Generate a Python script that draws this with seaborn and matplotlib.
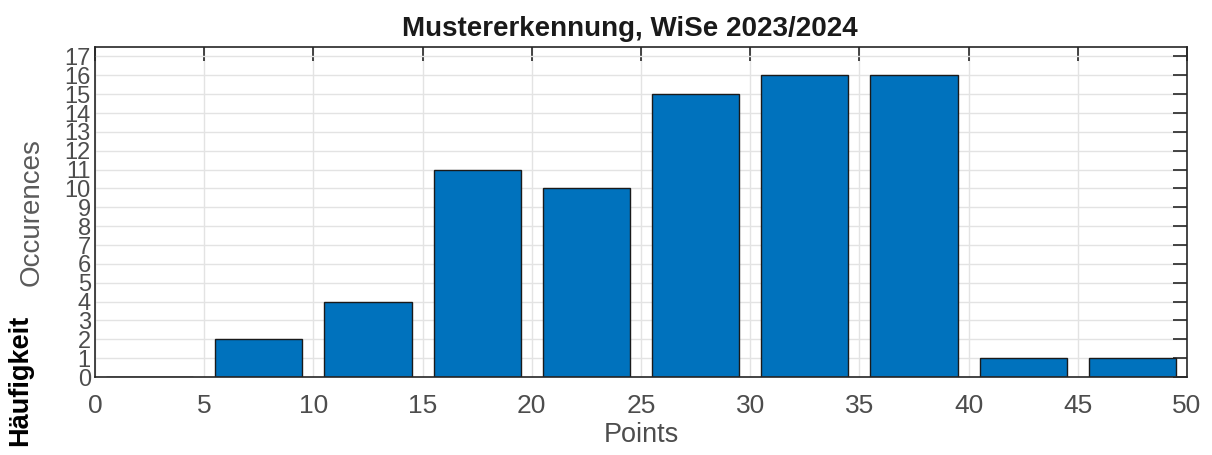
import matplotlib
matplotlib.use("Agg")
import matplotlib.pyplot as plt
import seaborn as sns

# histogram data (points per 5-point bin)
bin_edges = [0, 5, 10, 15, 20, 25, 30, 35, 40, 45, 50]
counts = [0, 2, 4, 11, 10, 15, 16, 16, 1, 1]
bin_centers = [2.5, 7.5, 12.5, 17.5, 22.5, 27.5, 32.5, 37.5, 42.5, 47.5]
x_ticks = list(range(0, 51, 5))
y_ticks = list(range(0, 18))

sns.set_style("white")
plt.rcParams['font.family'] = ['Liberation Sans', 'DejaVu Sans']

fig = plt.figure(figsize=(12.12, 4.55), dpi=100)
ax = fig.add_axes([95 / 1212, 1 - 377 / 455, 1092 / 1212, 330 / 455])

sns.histplot(x=bin_centers, weights=counts, bins=bin_edges, shrink=0.8,
             color="#0072BD", alpha=1, edgecolor="#1a1a1a", linewidth=1.0, ax=ax)

ax.set_xlim(0, 50)
ax.set_ylim(0, 17.5)
ax.set_xticks(x_ticks)
ax.set_yticks(y_ticks)
ax.set_axisbelow(True)
ax.grid(True, color="#e3e3e3", linewidth=1.0)

for s in ax.spines.values():
    s.set_color("#262626")
    s.set_linewidth(1.2)

ax.tick_params(axis='both', direction='in', length=10, width=1.2, color="#262626",
               top=True, right=True, labelcolor="#4d4d4d")
ax.tick_params(axis='y', pad=3, labelsize=17)
ax.tick_params(axis='x', pad=12, labelsize=19)

ax.set_title("Mustererkennung, WiSe 2023/2024", fontsize=20, fontweight='bold',
             color="#1a1a1a", pad=8, x=0.49)
ax.set_xlabel("Points", fontsize=19.5, color="#4d4d4d", labelpad=3)
ax.set_ylabel("")

fig.text(32 / 1212, 1 - 212 / 455, "Occurences", rotation=90, fontsize=20,
         color="#5a5a5a", ha='center', va='center')
fig.text(20 / 1212, 1 - 380 / 455, "Häufigkeit", rotation=90, fontsize=19.5,
         fontweight='bold', color="black", ha='center', va='center')

fig.savefig("out.png", dpi=100)
